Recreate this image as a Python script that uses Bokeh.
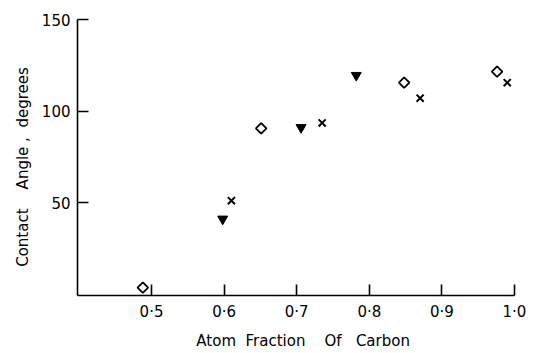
import math
from bokeh.plotting import figure
from bokeh.models import FixedTicker
from bokeh.embed import file_html
from bokeh.resources import INLINE

# Data
diamond_x = [0.488, 0.651, 0.848, 0.976]
diamond_y = [3.5, 90.5, 115.5, 121.5]

triangle_x = [0.598, 0.706, 0.782]
triangle_y = [41, 91, 119.5]

cross_x = [0.61, 0.735, 0.87, 0.99]
cross_y = [51, 93.5, 107, 115.5]

x_ticks = [0.5, 0.6, 0.7, 0.8, 0.9, 1.0]
x_tick_labels = ["0·5", "0·6", "0·7", "0·8", "0·9", "1·0"]
y_ticks = [50, 100, 150]

NB = "\u00a0"
x_title = NB * 3 + "Atom" + NB * 2 + "Fraction" + NB * 4 + "Of" + NB * 3 + "Carbon"
y_title = "Contact" + NB * 4 + "Angle" + NB + "," + NB * 2 + "degrees" + NB * 4

FONT = "DejaVu Sans"

p = figure(width=528, height=352, output_backend="svg", toolbar_location=None,
           x_range=(0.398, 1.0), y_range=(-0.8, 150),
           min_border_left=77, min_border_right=14, min_border_top=19,
           min_border_bottom=57)
p.outline_line_color = None
p.xgrid.visible = False
p.ygrid.visible = False

for ax in (p.xaxis[0], p.yaxis[0]):
    ax.axis_line_width = 1.6
    ax.axis_line_color = "black"
    ax.major_tick_in = 11
    ax.major_tick_out = 0
    ax.major_tick_line_width = 1.6
    ax.major_tick_line_color = "black"
    ax.minor_tick_line_color = None
    ax.major_label_text_font = FONT
    ax.major_label_text_font_size = "15px"
    ax.major_label_text_color = "black"
    ax.major_label_standoff = 7
    ax.axis_label_text_font = FONT
    ax.axis_label_text_font_size = "15px"
    ax.axis_label_text_font_style = "normal"
    ax.axis_label_text_color = "black"

p.xaxis.ticker = FixedTicker(ticks=x_ticks)
p.xaxis.major_label_overrides = {t: l for t, l in zip(x_ticks, x_tick_labels)}
p.yaxis.ticker = FixedTicker(ticks=y_ticks)
p.xaxis.axis_label = x_title
p.yaxis.axis_label = y_title
p.xaxis.axis_label_standoff = 8
p.yaxis.axis_label_standoff = 7

p.scatter(diamond_x, diamond_y, marker="square", size=7.5, angle=math.pi / 4,
          fill_color=None, line_color="black", line_width=1.8)
p.scatter(triangle_x, triangle_y, marker="inverted_triangle", size=10,
          fill_color="black", line_color="black", line_width=1)
p.scatter(cross_x, cross_y, marker="x", size=10, line_color="black",
          line_width=2)

open("out.html", "w").write(file_html(p, INLINE))
